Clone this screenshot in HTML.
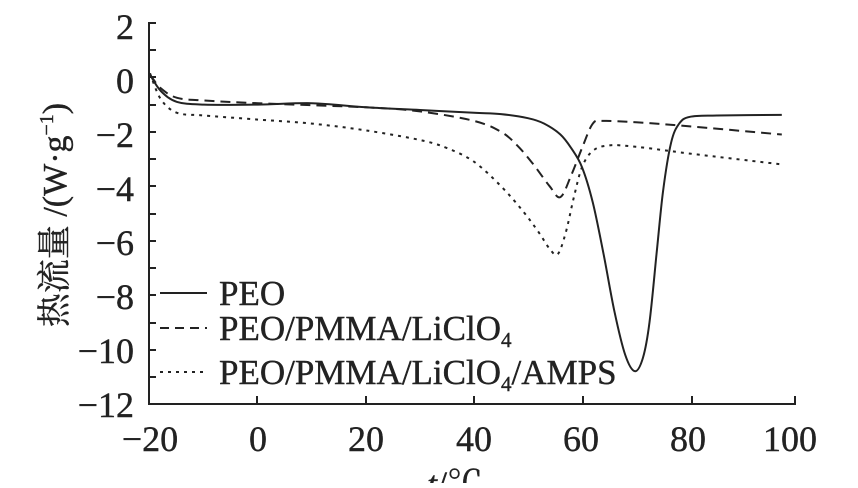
<!DOCTYPE html>
<html><head><meta charset="utf-8"><style>
body{margin:0;background:#fff;width:858px;height:483px;overflow:hidden}
svg text{font-family:"Liberation Serif","Noto Serif CJK SC",serif;fill:#222;stroke:#222;stroke-width:0.4}
</style></head><body>
<svg id="s" width="858" height="483" viewBox="0 0 858 483" xmlns="http://www.w3.org/2000/svg">
<g stroke="#222" stroke-width="2" fill="none">
<path d="M156 23 H149 V404 H795 V396"/>
<path d="M149 50 h7 M149 77 h7 M149 105 h7 M149 132 h7 M149 159 h7 M149 186 h7 M149 214 h7 M149 241 h7 M149 268 h7 M149 295 h7 M149 323 h7 M149 350 h7 M149 377 h7"/>
<path d="M257 404 v-8 M366 404 v-8 M474 404 v-8 M583 404 v-8 M692 404 v-8"/>
</g>
<g font-size="36" text-anchor="end">
<text x="134" y="39">2</text><text x="134" y="93">0</text><text x="134" y="147">−2</text>
<text x="134" y="201">−4</text><text x="134" y="255">−6</text><text x="134" y="309">−8</text>
<text x="134" y="363">−10</text><text x="134" y="417">−12</text>
</g>
<g font-size="36" text-anchor="middle">
<text x="150" y="451">−20</text><text x="258" y="451">0</text><text x="366" y="451">20</text>
<text x="474" y="451">40</text><text x="581" y="451">60</text><text x="688" y="451">80</text><text x="790" y="451">100</text>
<text x="455" y="496" font-style="italic">t<tspan font-style="normal">/℃</tspan></text>
</g>
<text transform="translate(66,215) rotate(-90)" font-size="34" text-anchor="middle">热流量 /(W·g<tspan font-size="20" dy="-13">−1</tspan><tspan dy="13">)</tspan></text>
<g stroke="#222" stroke-width="2" fill="none">
<path d="M160 293 H207"/>
<path d="M160 328 H207" stroke-dasharray="9 6"/>
<path d="M160 372 H207" stroke-dasharray="3 5"/>
</g>
<g font-size="35">
<text x="219" y="305">PEO</text>
<text x="219" y="340">PEO/PMMA/LiClO<tspan font-size="21" dy="7">4</tspan></text>
<text x="219" y="384">PEO/PMMA/LiClO<tspan font-size="21" dy="7">4</tspan><tspan dy="-7">/AMPS</tspan></text>
</g>
<path id="p1" stroke="#222" stroke-width="2" fill="none"/>
<path id="p2" stroke="#222" stroke-width="2" fill="none" stroke-dasharray="10 6"/>
<path id="p3" stroke="#222" stroke-width="2" fill="none" stroke-dasharray="3 5"/>
</svg>
<script>
function X(t){return 150+5.4*(t+20)}function Y(v){return 77.4-27.2*v}
function d(pts){var p=pts.map(q=>[X(q[0]),Y(q[1])]);var s='M'+p[0][0].toFixed(1)+' '+p[0][1].toFixed(1);
for(var i=0;i<p.length-1;i++){var a=p[Math.max(i-1,0)],b=p[i],c=p[i+1],e=p[Math.min(i+2,p.length-1)];
var c1=[b[0]+(c[0]-a[0])/6,b[1]+(c[1]-a[1])/6],c2=[c[0]-(e[0]-b[0])/6,c[1]-(e[1]-b[1])/6];
s+=' C'+c1.map(v=>v.toFixed(1)).join(' ')+' '+c2.map(v=>v.toFixed(1)).join(' ')+' '+c[0].toFixed(1)+' '+c[1].toFixed(1);}return s}
document.getElementById('p1').setAttribute('d',d([[-20,0.1],[-18,-0.5],[-15,-0.9],[-10,-1.0],[0,-1.0],[10,-0.95],[20,-1.1],[30,-1.2],[40,-1.3],[45,-1.35],[50,-1.5],[53,-1.7],[56,-2.1],[58,-2.6],[60,-3.3],[62,-4.6],[64,-6.5],[66,-8.6],[68,-10.2],[69.8,-10.8],[71.3,-10.3],[72.5,-9.0],[73.8,-6.5],[75,-4.2],[76.5,-2.4],[78,-1.7],[80,-1.45],[85,-1.4],[97,-1.38]]));
document.getElementById('p2').setAttribute('d',d([[-20,0.1],[-18,-0.4],[-15,-0.75],[-10,-0.85],[0,-0.95],[20,-1.1],[30,-1.25],[40,-1.6],[45,-2.0],[48,-2.5],[51,-3.2],[54,-4.0],[56,-4.4],[58,-3.6],[60,-2.6],[62,-1.7],[64,-1.6],[70,-1.65],[80,-1.8],[97,-2.1]]));
document.getElementById('p3').setAttribute('d',d([[-20,0.15],[-18,-0.8],[-15,-1.3],[-10,-1.4],[0,-1.55],[10,-1.7],[20,-1.95],[30,-2.3],[35,-2.6],[40,-3.1],[45,-4.0],[49,-4.9],[52,-5.7],[54,-6.3],[55.5,-6.5],[57,-5.7],[58.5,-4.4],[60,-3.3],[62,-2.7],[65,-2.5],[70,-2.55],[80,-2.8],[97,-3.2]]));
</script>
</body></html>
